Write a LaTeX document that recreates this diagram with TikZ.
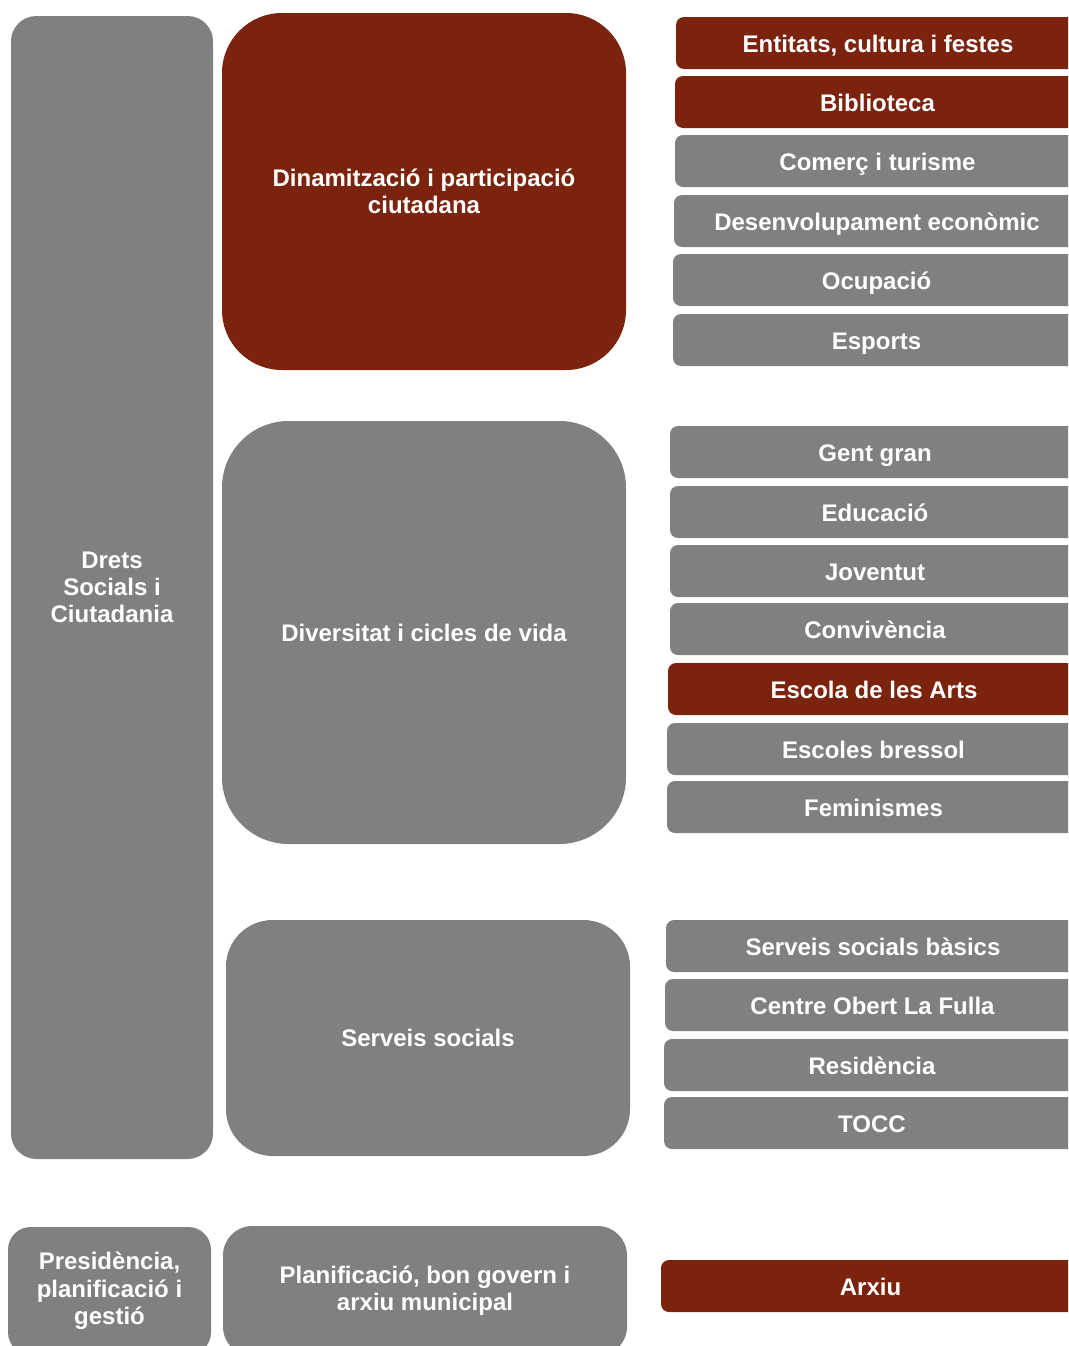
\documentclass[tikz,border=0pt]{standalone}
\usepackage{fontspec}
\setmainfont{Liberation Sans}

\definecolor{brick}{RGB}{123,35,13}
\definecolor{slate}{RGB}{128,128,128}

\tikzset{
  box/.style={rounded corners=#1, inner sep=0pt, text=white, align=center,
    font=\bfseries\fontsize{18}{20.5}\selectfont},
  greybox/.style={box=#1, fill=slate},
  redbox/.style={box=#1, fill=brick},
  size/.style 2 args={minimum width={(#1)*0.75pt}, minimum height={(#2)*0.75pt}}
}

\begin{document}
\begin{tikzpicture}[x=0.75pt,y=-0.75pt]
\useasboundingbox (0,0) rectangle (1068,1346);
\clip (0,0) rectangle (1068,1346);

% Area
\node (drets) [greybox=19pt, size={202}{1143}] at (112,587.5) {Drets\\Socials i\\Ciutadania};
\node (presid) [greybox=17pt, size={203}{128}] at (109.5,1291) {Presidència,\\planificació i\\gestió};

% Ambits
\node (dinam) [redbox=45pt, size={404}{357}] at (424,191.5) {Dinamització i participació\\ciutadana};
\node (divers) [greybox=50pt, size={404}{423}] at (424,632.5) {Diversitat i cicles de vida};
\node (ssoc) [greybox=35pt, size={404}{236}] at (428,1038) {Serveis socials};
\node (planif) [greybox=22pt, size={404}{130}] at (425,1291) {Planificació, bon govern i\\arxiu municipal};

% Serveis
\foreach \i/\l/\t/\txt/\col in {
    1/676/17/{Entitats, cultura i festes}/brick,
    2/675/76/Biblioteca/brick,
    3/675/135/Comerç i turisme/slate,
    4/674/195/Desenvolupament econòmic/slate,
    5/673/254/Ocupació/slate,
    6/673/314/Esports/slate,
    7/670/426/Gent gran/slate,
    8/670/486/Educació/slate,
    9/670/545/Joventut/slate,
    10/670/603/Convivència/slate,
    11/668/663/Escola de les Arts/brick,
    12/667/723/Escoles bressol/slate,
    13/667/781/Feminismes/slate,
    14/666/920/Serveis socials bàsics/slate,
    15/665/979/Centre Obert La Fulla/slate,
    16/664/1039/Residència/slate,
    17/664/1097/TOCC/slate,
    18/661/1260/Arxiu/brick} {
    \node (s\i) [box=6pt, fill=\col, size={1080-\l}{52}, text height=16pt, text depth=1.6pt]
      at ({(\l+1080)/2},\t+26) {\txt};
}
\end{tikzpicture}
\end{document}
